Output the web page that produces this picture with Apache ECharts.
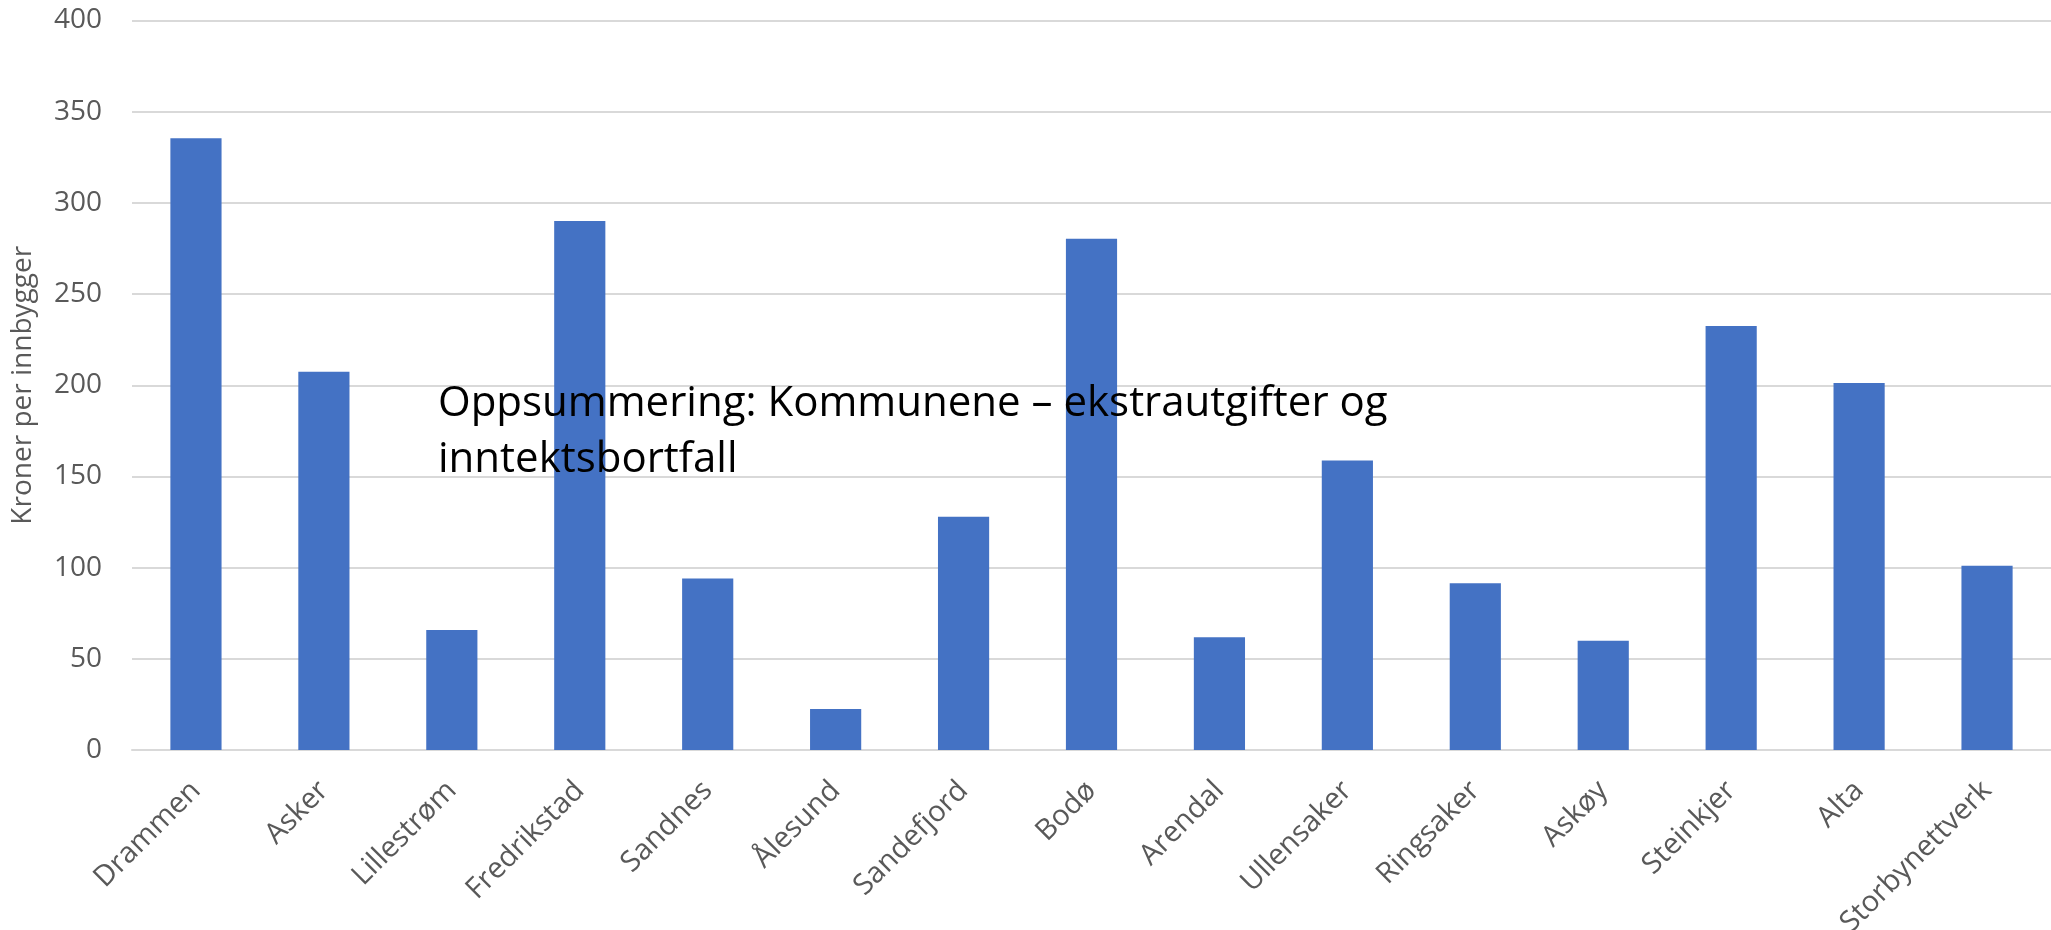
<html>

<head>
    <meta charset="utf-8" />
    <script src="https://cdn.jsdelivr.net/npm/echarts@6/dist/echarts.min.js"></script>
    <style>
        html, body { margin: 0; padding: 0; background: #fff; }
        #chart { width: 2051px; height: 930px; }
    </style>
</head>

<body>
    <div id="chart"></div>
    <script>
        // kommuner
        var kommuner = ['Drammen', 'Asker', 'Lillestrøm', 'Fredrikstad', 'Sandnes', 'Ålesund', 'Sandefjord',
            'Bodø', 'Arendal', 'Ullensaker', 'Ringsaker', 'Askøy', 'Steinkjer', 'Alta', 'Storbynettverk'];
        // kroner per innbygger
        var kronerPerInnbygger = [335.4, 207.4, 65.8, 290, 94.1, 22.5, 127.9, 280.3, 61.8, 158.8, 91.4, 59.9, 232.5, 201.2, 101];
        var overskrift = 'Oppsummering: Kommunene – ekstrautgifter og\ninntektsbortfall';

        var chart = echarts.init(document.getElementById('chart'));
        var grey = '#595959';
        var option = {
            animation: false,
            textStyle: { fontFamily: 'Open Sans' },
            grid: {
                left: 132,
                right: 0,
                top: 20.5,
                bottom: 180,
                containLabel: false,
                outerBoundsMode: 'none'
            },
            xAxis: {
                type: 'category',
                data: kommuner,
                axisTick: { show: false },
                axisLine: { lineStyle: { color: '#d9d9d9', width: 2 } },
                axisLabel: {
                    rotate: 45,
                    interval: 0,
                    margin: 36,
                    fontSize: 29,
                    color: grey,
                    fontFamily: 'Open Sans'
                }
            },
            yAxis: {
                type: 'value',
                min: 0,
                max: 400,
                interval: 50,
                name: 'Kroner per innbygger',
                nameLocation: 'middle',
                nameGap: 95,
                nameTextStyle: { fontSize: 28, color: grey, fontFamily: 'Open Sans' },
                axisLine: { show: false },
                axisTick: { show: false },
                splitLine: { lineStyle: { color: '#d9d9d9', width: 2 } },
                axisLabel: { fontSize: 28, color: grey, margin: 30, fontFamily: 'Open Sans' }
            },
            series: [{
                type: 'bar',
                data: kronerPerInnbygger,
                barCategoryGap: '60%',
                itemStyle: { color: '#4472C4' }
            }],
            graphic: [{
                type: 'text',
                left: 438,
                top: 376,
                z: 100,
                style: {
                    text: overskrift,
                    fontSize: 42,
                    lineHeight: 56,
                    fill: '#000',
                    fontFamily: 'Open Sans'
                }
            }]
        };
        chart.setOption(option);
    </script>
</body>

</html>
